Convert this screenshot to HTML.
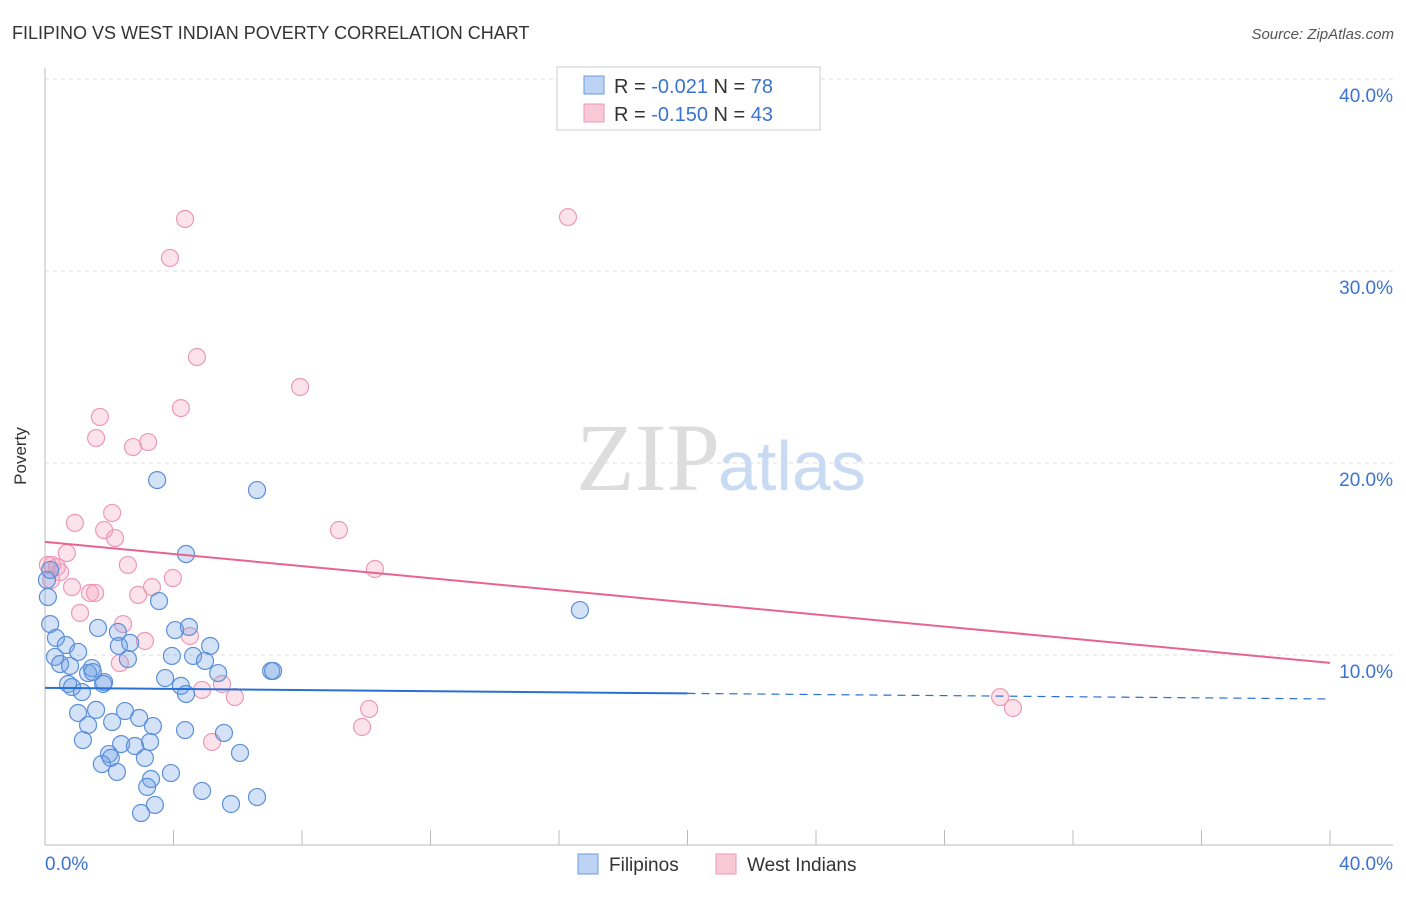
<!DOCTYPE html>
<html><head><meta charset="utf-8"><style>
body{margin:0;background:#fff;font-family:"Liberation Sans",sans-serif;}
</style></head><body>
<svg width="1406" height="892" xmlns="http://www.w3.org/2000/svg">
<text x="12" y="39" font-size="18" fill="#333">FILIPINO VS WEST INDIAN POVERTY CORRELATION CHART</text>
<text x="1394" y="39" font-size="15" fill="#555" text-anchor="end" font-style="italic">Source: ZipAtlas.com</text>
<g id="grid"></g>
<text x="720" y="490" font-size="96" fill="#ddd" text-anchor="end" font-family="Liberation Serif">ZIP</text>
<text x="718" y="490" font-size="70" fill="#c9daf3">atlas</text>
<g id="pts"></g>
<g id="lines"></g>
<text x="26" y="456" font-size="17" fill="#333" transform="rotate(-90 26 456)" text-anchor="middle">Poverty</text>
<g>
<rect x="557" y="67" width="263" height="63" fill="#fff" stroke="#ccc"/>
<rect x="584" y="76" width="20" height="18" fill="#bcd3f4" stroke="#6b9be0"/>
<rect x="584" y="104" width="20" height="18" fill="#f9c8d7" stroke="#ec9ab4"/>
<text x="614" y="93" font-size="20" fill="#333">R = <tspan fill="#3b73d1">-0.021</tspan>   N = <tspan fill="#3b73d1">78</tspan></text>
<text x="614" y="121" font-size="20" fill="#333">R = <tspan fill="#3b73d1">-0.150</tspan>   N = <tspan fill="#3b73d1">43</tspan></text>
</g>
<g>
<rect x="578" y="854" width="20" height="20" fill="#bcd3f4" stroke="#6b9be0"/>
<text x="609" y="871" font-size="19" fill="#333">Filipinos</text>
<rect x="716" y="854" width="20" height="20" fill="#f9c8d7" stroke="#ec9ab4"/>
<text x="747" y="871" font-size="19" fill="#333">West Indians</text>
</g>
</svg>
<script>
const yTicks=[10,20,30,40];
const yTickLabels=["10.0%","20.0%","30.0%","40.0%"];
const xTickLabels=["0.0%","40.0%"];
const filX=[3.49,6.60,4.39,16.65,3.55,0.09,0.16,1.65,2.27,4.48,0.34,2.65,5.14,0.65,1.03,0.31,0.47,0.78,1.46,3.95,4.61,4.98,2.58,1.34,1.84,5.39,7.04,7.10,3.74,0.72,0.84,1.15,4.23,4.39,1.59,1.03,2.49,2.93,3.36,2.09,1.34,4.36,5.57,1.18,2.37,3.27,2.80,1.99,6.07,2.05,3.11,1.77,2.24,3.92,3.30,3.18,4.89,6.60,3.42,2.99,5.79,1.81,0.06,0.16,4.05,1.49,2.30];
const filY=[19.11,18.59,15.26,12.34,12.81,13.02,11.61,11.41,11.20,11.46,10.89,10.63,10.47,10.52,10.16,9.90,9.53,9.43,9.32,9.95,9.95,9.69,9.79,9.06,8.59,9.06,9.17,9.17,8.80,8.49,8.33,8.07,8.39,7.97,7.14,6.98,7.08,6.72,6.30,6.51,6.35,6.09,5.94,5.57,5.36,5.47,5.26,4.84,4.90,4.64,4.64,4.32,3.91,3.85,3.54,3.13,2.92,2.60,2.19,1.77,2.24,8.49,13.91,14.43,11.30,9.11,10.47];
const wiX=[4.36,16.28,3.89,4.73,7.94,4.23,1.71,1.59,3.21,2.74,0.93,2.09,1.84,2.18,9.15,0.68,2.58,0.22,0.37,0.47,10.27,0.84,1.40,3.33,3.98,2.90,1.09,2.43,3.11,4.51,2.33,4.89,5.91,5.51,5.20,9.87,10.09,29.73,30.13,0.09,1.56,0.19];
const wiY=[32.71,32.81,30.68,25.52,23.96,22.86,22.40,21.30,21.09,20.83,16.88,17.40,16.51,16.09,16.51,15.31,14.69,14.69,14.58,14.32,14.48,13.54,13.23,13.54,14.01,13.13,12.19,11.61,10.73,10.99,9.58,8.18,7.81,8.49,5.47,6.25,7.19,7.81,7.24,14.69,13.23,13.91];
const filTrend=[8.29,7.71];
const wiTrend=[15.89,9.59];
const X=v=>45+v*1285/40, Y=v=>847-v*19.2;
const NS="http://www.w3.org/2000/svg";
function mk(t,a,p){const e=document.createElementNS(NS,t);for(const k in a)e.setAttribute(k,a[k]);p.appendChild(e);return e;}
const g=document.getElementById('grid');
yTicks.forEach((v,i)=>{
 const l=mk('line',{x1:45,x2:1393,y1:Y(v),y2:Y(v),stroke:'#ddd','stroke-dasharray':'4,4'},g);
 
 
 const t=mk('text',{x:1393,y:Y(v)+23,'font-size':19,fill:'#3b73d1','text-anchor':'end'},g);
 t.textContent=yTickLabels[i];
 
 
});
mk('line',{x1:45,x2:45,y1:68,y2:845,stroke:'#bbb'},g);
mk('line',{x1:45,x2:1393,y1:845,y2:845,stroke:'#bbb'},g);
for(let i=0;i<=10;i++){const tk=mk('line',{x1:X(i*4),x2:X(i*4),y1:830,y2:845,stroke:'#bbb'},g);
 
 }
[[45,'start'],[1393,'end']].forEach((p,i)=>{const t=mk('text',{x:p[0],y:870,'font-size':19,fill:'#3b73d1','text-anchor':p[1]},g);t.textContent=xTickLabels[i];
 
 });
const pg=document.getElementById('pts');
wiX.forEach((v,i)=>{const c=mk('circle',{cx:X(v),cy:Y(wiY[i]),r:8.5,fill:'rgba(244,160,190,0.3)',stroke:'#ec9ab4','stroke-width':1.2},pg);
 
 });
filX.forEach((v,i)=>{const c=mk('circle',{cx:X(v),cy:Y(filY[i]),r:8.5,fill:'rgba(110,160,230,0.3)',stroke:'#5b8fd9','stroke-width':1.2},pg);
 
 });
const lg=document.getElementById('lines');
const fm=filTrend[0]+(filTrend[1]-filTrend[0])*0.5;
const l1=mk('line',{x1:X(0),y1:Y(filTrend[0]),x2:X(20),y2:Y(fm),stroke:'#2a6fd4','stroke-width':2},lg);


const l2=mk('line',{x1:X(20),y1:Y(fm),x2:X(40),y2:Y(filTrend[1]),stroke:'#2a6fd4','stroke-width':1.2,'stroke-dasharray':'8,6'},lg);


const l3=mk('line',{x1:X(0),y1:Y(wiTrend[0]),x2:X(40),y2:Y(wiTrend[1]),stroke:'#e8648e','stroke-width':2},lg);


</script>
</body></html>
